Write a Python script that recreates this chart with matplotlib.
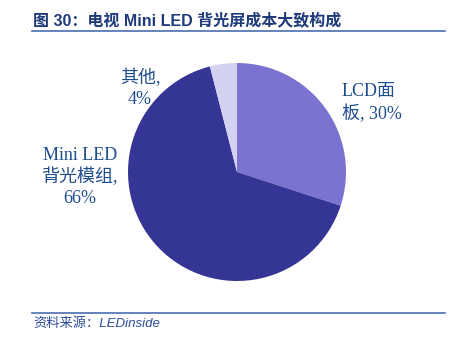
import matplotlib.pyplot as plt
from matplotlib.lines import Line2D

labels = ['LCD面\n板, 30%', 'Mini LED\n背光模组,\n66%', '其他,\n4%']
shares = [30, 66, 4]
colors = ['#7B73D1', '#353595', '#D3D3F1']

W, H = 467, 346
fig = plt.figure(figsize=(W / 100, H / 100), dpi=100)

def px(x, y):
    return x / W, 1 - y / H

serif = ['Liberation Serif', 'Noto Sans CJK SC']
sans = ['Liberation Sans', 'Noto Sans CJK SC']
txt_color = '#1F4E8F'

# pie axes: centre ~ (237, 172), radius ~ 109 px
cx, cy, r = 237, 172, 109
ax = fig.add_axes([(cx - r) / W, 1 - (cy + r) / H, 2 * r / W, 2 * r / H])
ax.pie(shares, colors=colors, startangle=90, counterclock=False,
       wedgeprops=dict(linewidth=0))
ax.set_xlim(-1, 1)
ax.set_ylim(-1, 1)
ax.set_aspect('equal')
ax.axis('off')

# slice labels
pos = [(342, 103, 'left'), (80, 177, 'center'), (140, 88, 'center')]
for lab, (x, y, ha) in zip(labels, pos):
    fig.text(*px(x, y), lab, ha=ha, va='center', family=serif,
             fontsize=13, color=txt_color, linespacing=1.3)

# title and rules
fig.text(*px(33, 20), '图 30：电视 Mini LED 背光屏成本大致构成', ha='left', va='center',
         family=sans, fontsize=11.5, fontweight='bold', color='#1F3A7A')
for y in (31, 313):
    fig.add_artist(Line2D([32 / W, 445 / W], [1 - y / H] * 2, color='#4A6DB0', lw=1.2))
fig.text(*px(33, 324), '资料来源：LEDinside', ha='left', va='center',
         family=sans, fontsize=9.5, style='italic', color='#2B4C9A')

fig.savefig('out.png', dpi=100)
